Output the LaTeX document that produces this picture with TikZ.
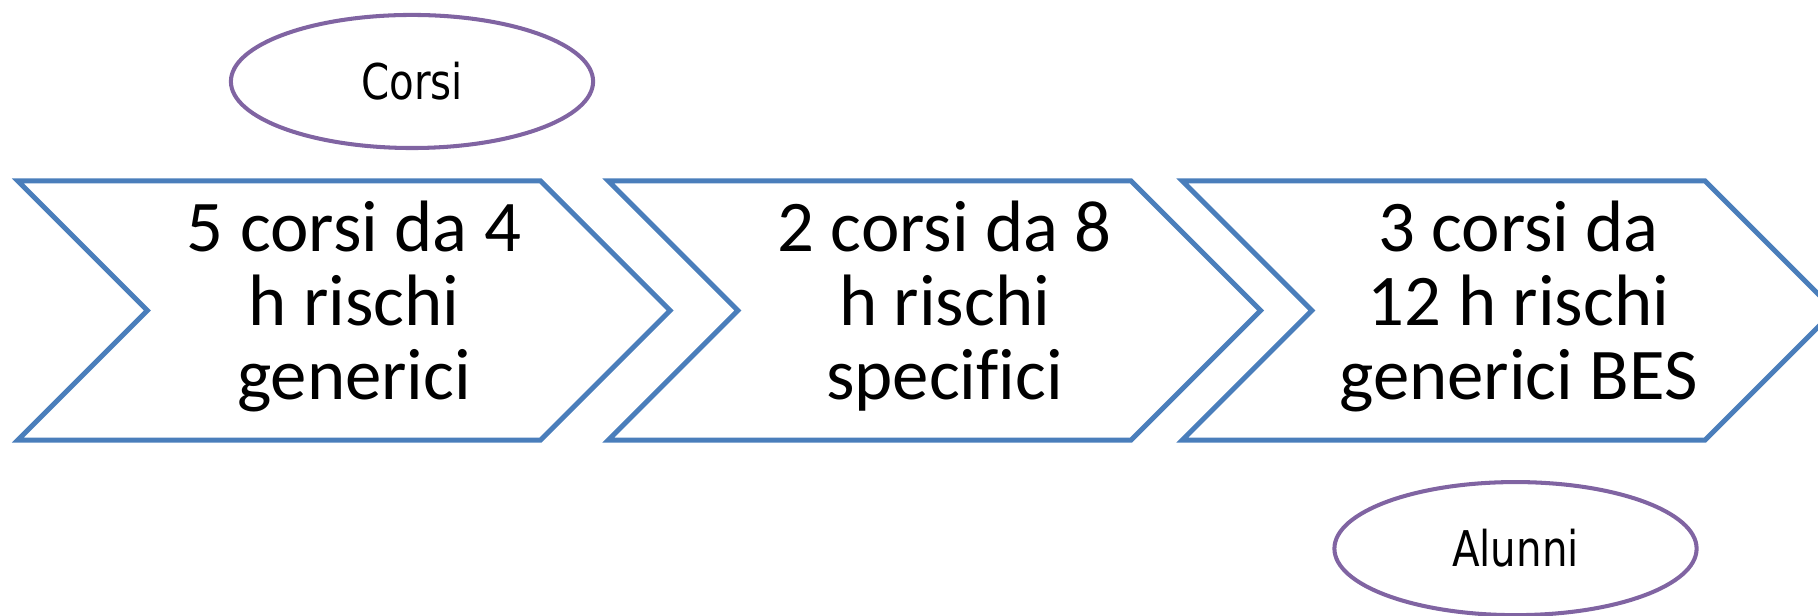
\documentclass[tikz,border=0pt]{standalone}
\usepackage{fontspec}
\setmainfont[Ligatures=NoCommon]{Carlito}
\newfontfamily\ovalfont[FakeStretch=0.82]{DejaVu Sans}
\usepackage{tikz}
\usetikzlibrary{positioning}
\usetikzlibrary{shapes.symbols}
\usetikzlibrary{shapes.geometric}
\definecolor{stepblue}{RGB}{74,126,187}
\definecolor{ovalpurple}{RGB}{128,100,162}
% text of a chevron, pushed a little to the right
\newcommand{\fasetext}[1]{\hspace*{0.2cm}\begin{tabular}{@{}c@{}}#1\end{tabular}}
\tikzset {
  x=0.01cm, y=0.01cm,
  % chevron for each block of courses
  fase/.style = {draw=stepblue, line width=1.4pt, shape=signal, signal from=west, signal to=east,
    signal pointer angle=90, minimum width=6.52cm, minimum height=2.59cm, inner sep=0pt,
    font=\fontsize{20.7}{21}\selectfont},
  % oval labels above and below the chevrons
  oval/.style = {draw=ovalpurple, line width=1.15pt, ellipse, minimum width=3.62cm,
    minimum height=1.33cm, inner sep=0pt, font=\ovalfont\fontsize{14}{16}\selectfont},
}
\begin{document}
\begin{tikzpicture}
        \useasboundingbox (0,0) rectangle (1818,616);
        \node[fase] (fase1) at (344,305.5) {\fasetext{5 corsi da 4\\h rischi\\generici}};
        \node[fase] (fase2) at (934.5,305.5) {\fasetext{2 corsi da 8\\h rischi\\specifici}};
        \node[fase] (fase3) at (1508.5,305.5) {\fasetext{3 corsi da\\12 h rischi\\generici BES}};

        \node[oval] (corsi) at (412,534.5) {Corsi};
        \node[oval] (alunni) [below=0.375cm of fase3, xshift=0.07cm] {Alunni};
      \end{tikzpicture}
\end{document}
